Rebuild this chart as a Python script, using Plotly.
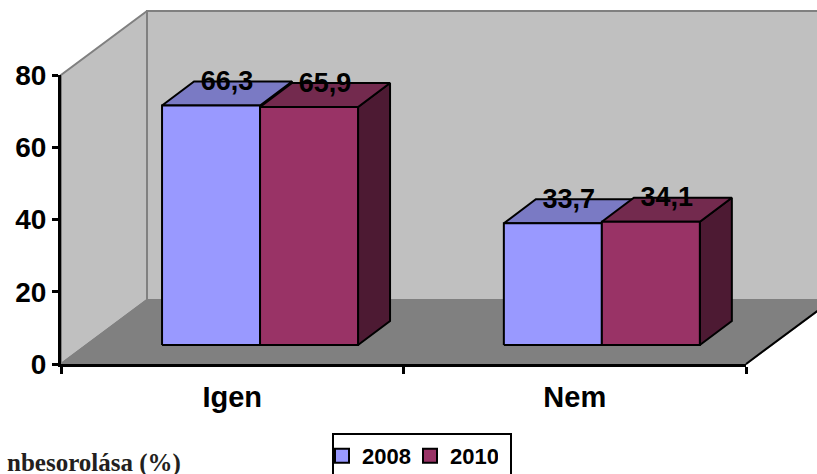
import plotly.graph_objects as go

categories = ["Igen", "Nem"]
series_names = ["2008", "2010"]
values_2008 = [66.3, 33.7]
values_2010 = [65.9, 34.1]
labels_2008 = ["66,3", "33,7"]
labels_2010 = ["65,9", "34,1"]
y_ticks = [0, 20, 40, 60, 80]

W, H = 817, 474
X0, X1 = 61, 746          # page pixels of the category axis
Y0, Y1 = 364, 75          # page pixels of 0 and 80
PX = (X1 - X0) / 2        # pixels per category
PY = (Y0 - Y1) / 80       # pixels per value unit

wall_dx, wall_dy = 86 / PX, 64 / PY
bar_dx, bar_dy = 32 / PX, 24 / PY
base_y = 19 / PY
bar_left = [0.295, 1.293]
bar_w = 98 / PX
FAMILY = "Liberation Sans"

front = {"2008": "#9999FF", "2010": "#993366"}
top = {"2008": "#7A7AC4", "2010": "#732A4E"}
side = {"2008": "#5A5A99", "2010": "#4D1A33"}

fig = go.Figure()


def poly(xs, ys, fill, line, width=2):
    fig.add_trace(go.Scatter(
        x=xs + xs[:1], y=ys + ys[:1], mode="lines", fill="toself", fillcolor=fill,
        line=dict(color=line, width=width), xaxis="x", yaxis="y",
        showlegend=False, hoverinfo="skip"))


# walls and floor
poly([0, wall_dx, wall_dx, 0], [0, wall_dy, 80 + wall_dy, 80], "#C0C0C0", "#808080")
poly([wall_dx, 2 + wall_dx, 2 + wall_dx, wall_dx], [wall_dy, wall_dy, 80 + wall_dy, 80 + wall_dy],
     "#C0C0C0", "#808080")
poly([0, 2, 2 + wall_dx, wall_dx], [0, 0, wall_dy, wall_dy], "#808080", "#808080")
fig.add_trace(go.Scatter(x=[2, 2 + wall_dx], y=[0, wall_dy], mode="lines",
                         line=dict(color="black", width=2), xaxis="x", yaxis="y",
                         showlegend=False, hoverinfo="skip"))

# bars
for s, (name, vals) in enumerate(zip(series_names, [values_2008, values_2010])):
    for i, v in enumerate(vals):
        a = bar_left[i] + s * bar_w
        b = a + bar_w
        t = v + base_y
        poly([b, b + bar_dx, b + bar_dx, b], [base_y, base_y + bar_dy, t + bar_dy, t],
             side[name], "black")
        poly([a, b, b + bar_dx, a + bar_dx], [t, t, t + bar_dy, t + bar_dy], top[name], "black")
        poly([a, b, b, a], [base_y, base_y, t, t], front[name], "black")

# value labels (on the visible axes, drawn last)
for s, (vals, labs) in enumerate(zip([values_2008, values_2010], [labels_2008, labels_2010])):
    fig.add_trace(go.Scatter(
        x=[bar_left[i] + s * bar_w + bar_w / 2 + bar_dx / 2 for i in range(2)],
        y=[v + base_y + bar_dy * 0.92 for v in vals],
        text=labs, mode="text", textposition="middle center",
        textfont=dict(family=FAMILY, size=27, color="black", weight="bold"),
        xaxis="x2", yaxis="y2", cliponaxis=False, showlegend=False, hoverinfo="skip"))

# legend entries
for name in series_names:
    fig.add_trace(go.Scatter(
        x=[None], y=[None], mode="markers", name=name, xaxis="x2", yaxis="y2",
        marker=dict(symbol="square", size=14, color=front[name], line=dict(color="black", width=2))))

fig.add_annotation(text="<b>nbesorolása (%)</b>", xref="paper", yref="paper",
                   x=183 / W, y=1 - 463 / H,
                   xanchor="right", yanchor="middle", showarrow=False,
                   font=dict(family="Liberation Serif", size=25, color="#231F20"))

# legend frame (runs off the bottom of the page)
fig.add_shape(type="rect", xref="paper", yref="paper", x0=333 / W, x1=511 / W,
              y0=1 - 482 / H, y1=1 - 434 / H, fillcolor="white",
              line=dict(color="black", width=2), layer="between")

fig.update_layout(
    width=W, height=H, autosize=False,
    margin=dict(l=0, r=0, t=0, b=0, pad=0, autoexpand=False),
    paper_bgcolor="white", plot_bgcolor="rgba(0,0,0,0)",
    font=dict(family=FAMILY, color="black"),
    hovermode=False,
    legend=dict(orientation="h", x=322 / W, y=1 - 456 / H,
                xanchor="left", yanchor="middle", bgcolor="rgba(0,0,0,0)", borderwidth=0,
                itemwidth=30, entrywidth=43, entrywidthmode="pixels",
                font=dict(family=FAMILY, size=22, color="black", weight="bold")),
    # full-page scale for the 3-D box and bars, same units as the visible axes
    xaxis=dict(domain=[0, 1], range=[(0 - X0) / PX, (W - X0) / PX], visible=False),
    yaxis=dict(domain=[0, 1], range=[(Y0 - H) / PY, Y0 / PY], visible=False),
    xaxis2=dict(domain=[X0 / W, X1 / W], anchor="y2", range=[0, 2], tickmode="array",
                tickvals=[0.5, 1.5], ticktext=categories,
                ticks="", showgrid=False, zeroline=False, showline=True, linecolor="black", linewidth=3,
                tickfont=dict(family=FAMILY, size=29, color="black", weight="bold"),
                ticklabelstandoff=5,
                minor=dict(tickmode="array", tickvals=[0, 1, 2], ticks="outside", ticklen=7,
                           tickwidth=3, tickcolor="black", showgrid=False)),
    yaxis2=dict(domain=[1 - Y0 / H, 1 - Y1 / H], anchor="x2", range=[0, 80], tickmode="array",
                tickvals=y_ticks, ticks="outside", ticklen=6,
                tickwidth=3, tickcolor="black", showgrid=False, zeroline=False, showline=True,
                linecolor="black", linewidth=3,
                tickfont=dict(family=FAMILY, size=28, color="black", weight="bold")),
)

fig.write_html("out.html", config={"displayModeBar": False},
               post_script="document.body.style.margin='0';document.body.style.overflow='hidden';")
